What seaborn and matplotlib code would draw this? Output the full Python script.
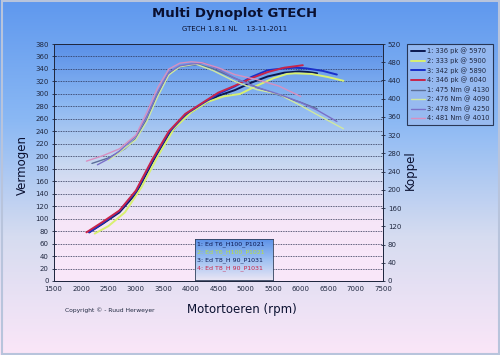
import numpy as np
import pandas as pd
import matplotlib
matplotlib.use("Agg")
import matplotlib.pyplot as plt
import seaborn as sns
from matplotlib.colors import LinearSegmentedColormap
from matplotlib.lines import Line2D

sns.set_theme(style="white")
plt.rcParams['font.family'] = ['DejaVu Sans']

# ---- data ----
rpm_p1 = [2150, 2400, 2700, 3000, 3300, 3600, 3900, 4200, 4500, 4800, 5100, 5400, 5700, 5970, 6150, 6300]
hp_p1 = [78, 92, 110, 140, 190, 235, 265, 282, 297, 306, 318, 328, 334, 336, 335, 333]
rpm_p2 = [2250, 2500, 2800, 3100, 3400, 3700, 4000, 4300, 4600, 4900, 5200, 5500, 5750, 5900, 6200, 6500, 6780]
hp_p2 = [76, 88, 110, 150, 200, 245, 270, 287, 296, 300, 313, 325, 332, 333, 332, 327, 321]
rpm_p3 = [2150, 2400, 2700, 3000, 3300, 3600, 3900, 4200, 4500, 4800, 5100, 5400, 5700, 5890, 6100, 6400, 6660]
hp_p3 = [78, 93, 112, 143, 193, 238, 267, 284, 300, 312, 327, 338, 341, 342, 341, 337, 331]
rpm_p4 = [2100, 2400, 2700, 3000, 3300, 3600, 3900, 4200, 4500, 4800, 5100, 5400, 5700, 6040]
hp_p4 = [78, 95, 113, 145, 195, 240, 268, 285, 302, 313, 325, 335, 342, 346]

rpm_t1 = [2200, 2500, 2800, 3000, 3200, 3400, 3600, 3800, 4130, 4400, 4800, 5200, 5600, 6000, 6300]
nm_t1 = [258, 270, 290, 313, 355, 410, 455, 470, 475, 466, 445, 425, 408, 392, 378]
rpm_t2 = [2500, 2700, 3000, 3200, 3400, 3600, 3800, 4090, 4400, 4800, 5200, 5600, 6000, 6300, 6780]
nm_t2 = [265, 282, 310, 350, 405, 452, 470, 476, 462, 438, 420, 410, 385, 365, 334]
rpm_t3 = [2300, 2500, 2700, 3000, 3200, 3400, 3600, 3800, 4000, 4250, 4500, 4800, 5200, 5600, 6000, 6300, 6660]
nm_t3 = [255, 268, 285, 318, 362, 415, 458, 472, 476, 478, 465, 445, 425, 410, 392, 375, 350]
rpm_t4 = [2100, 2400, 2700, 3000, 3200, 3400, 3600, 3800, 4010, 4200, 4500, 4800, 5200, 5600, 6000]
nm_t4 = [263, 275, 290, 320, 370, 425, 465, 478, 481, 479, 468, 453, 442, 428, 405]

power_labels = ["1: 336 pk @ 5970", "2: 333 pk @ 5900", "3: 342 pk @ 5890", "4: 346 pk @ 6040"]
torque_labels = ["1: 475 Nm @ 4130", "2: 476 Nm @ 4090", "3: 478 Nm @ 4250", "4: 481 Nm @ 4010"]
run_labels = ["1: Ed T6_H100_P1021", "2: Ed T6_H100_P1021", "3: Ed T8_H 90_P1031", "4: Ed T8_H 90_P1031"]
x_ticks = list(range(1500, 8000, 500))
y_ticks = list(range(0, 400, 20))
y2_ticks = list(range(0, 560, 40))

power_colors = ["#0b1850", "#d8f070", "#1a2fc8", "#c8244a"]
torque_colors = ["#5a6e98", "#d0e8a0", "#7a70c8", "#d890c0"]
text_colors = ["#0b1850", "#b8e040", "#0b1850", "#c8244a"]

# ---- figure ----
fig = plt.figure(figsize=(5, 3.55), dpi=100)
bg = fig.add_axes([0, 0, 1, 1], zorder=-10)
fig_cmap = LinearSegmentedColormap.from_list("fbg", ["#5f98ee", "#8ab8f4", "#d6dcf0", "#fbe6f8"])
bg.imshow(np.linspace(0, 1, 256).reshape(-1, 1), cmap=fig_cmap, aspect="auto", extent=[0, 1, 0, 1])
bg.add_patch(plt.Rectangle((0.003, 0.004), 0.994, 0.992, fill=False, edgecolor="#b8c4dc", lw=1.5))
bg.set_xlim(0, 1)
bg.set_ylim(0, 1)
bg.set_axis_off()

rect = [0.107, 0.2085, 0.659, 0.6675]
pbg = fig.add_axes(rect, zorder=-5)
plot_cmap = LinearSegmentedColormap.from_list("pbg", ["#5a90e8", "#8cb8f2", "#c8d8f0", "#f6e6f8", "#fae8fa"])
pbg.imshow(np.linspace(0, 1, 256).reshape(-1, 1), cmap=plot_cmap, aspect="auto", extent=[0, 1, 0, 1])
pbg.set_xlim(0, 1)
pbg.set_ylim(0, 1)
pbg.set_axis_off()

ax = fig.add_axes(rect, zorder=1)
ax.patch.set_visible(False)
for yv in y_ticks[1:]:
    ax.axhline(yv, color="#2a3050", lw=0.6, ls=(0, (1, 1)), zorder=1)

ax2 = ax.twinx()
ax2.patch.set_visible(False)

power = [(rpm_p1, hp_p1), (rpm_p2, hp_p2), (rpm_p3, hp_p3), (rpm_p4, hp_p4)]
torque = [(rpm_t1, nm_t1), (rpm_t2, nm_t2), (rpm_t3, nm_t3), (rpm_t4, nm_t4)]

for (r, v), c in zip(power, power_colors):
    sns.lineplot(x=r, y=v, ax=ax, color=c, lw=1.4, zorder=4)
for (r, v), c in zip(torque, torque_colors):
    sns.lineplot(x=r, y=v, ax=ax2, color=c, lw=1.0, zorder=3)

ax.set_xlim(1500, 7500)
ax.set_ylim(0, 380)
ax2.set_ylim(0, 520)
ax.set_xticks(x_ticks)
ax.set_yticks(y_ticks)
ax2.set_yticks(y2_ticks)
ax.tick_params(axis="both", labelsize=5, colors="#202840", length=3, width=0.6, direction="inout", pad=2)
ax2.tick_params(axis="y", labelsize=5, colors="#202840", length=3, width=0.6, direction="inout", pad=2)
for a in (ax, ax2):
    for s in a.spines.values():
        s.set_visible(True)
        s.set_color("#202840")
        s.set_linewidth(0.7)
ax.set_xlabel("")
ax.set_ylabel("")
ax2.set_ylabel("")

# texts
fig.text(0.47, 0.963, "Multi Dynoplot GTECH", ha="center", va="center", fontsize=9.5, fontweight="bold", color="#0a1030")
fig.text(0.47, 0.918, "GTECH 1.8.1 NL    13-11-2011", ha="center", va="center", fontsize=5, color="#0a1030")
fig.text(0.045, 0.535, "Vermogen", rotation=90, ha="center", va="center", fontsize=8.5, color="#0a1030")
fig.text(0.82, 0.52, "Koppel", rotation=90, ha="center", va="center", fontsize=8.5, color="#0a1030")
fig.text(0.484, 0.127, "Motortoeren (rpm)", ha="center", va="center", fontsize=8.5, color="#0a1030")
fig.text(0.22, 0.127, "Copyright \u00a9 - Ruud Herweyer", ha="center", va="center", fontsize=4.3, color="#202840")

# legend
handles = [Line2D([0], [0], color=c, lw=1.4) for c in power_colors] + \
          [Line2D([0], [0], color=c, lw=1.0) for c in torque_colors]
labels = power_labels + torque_labels
leg = fig.legend(handles, labels, loc="upper left", bbox_to_anchor=(0.808, 0.885), fontsize=4.8,
                 frameon=True, handlelength=2.2, handletextpad=0.3, labelspacing=0.45,
                 borderpad=0.5, fancybox=False, labelcolor="#202840")
leg.get_frame().set_edgecolor("#101830")
leg.get_frame().set_linewidth(0.8)
leg.get_frame().set_facecolor("#9cbcf0")

# run label box
box_ax = fig.add_axes([0.39, 0.21, 0.155, 0.118], zorder=20)
box_cmap = LinearSegmentedColormap.from_list("box", ["#5a90e8", "#9cc0f2", "#e8e4f4"])
box_ax.imshow(np.linspace(0, 1, 64).reshape(-1, 1), cmap=box_cmap, aspect="auto", extent=[0, 1, 0, 1])
box_ax.set_xlim(0, 1)
box_ax.set_ylim(0, 1)
box_ax.set_xticks([])
box_ax.set_yticks([])
for s in box_ax.spines.values():
    s.set_color("#30405a")
    s.set_linewidth(0.6)
for i, (t, c) in enumerate(zip(run_labels, text_colors)):
    box_ax.text(0.03, 0.86 - i * 0.19, t, fontsize=4.5, color=c, va="center", ha="left")

fig.savefig("out.png", dpi=100)
